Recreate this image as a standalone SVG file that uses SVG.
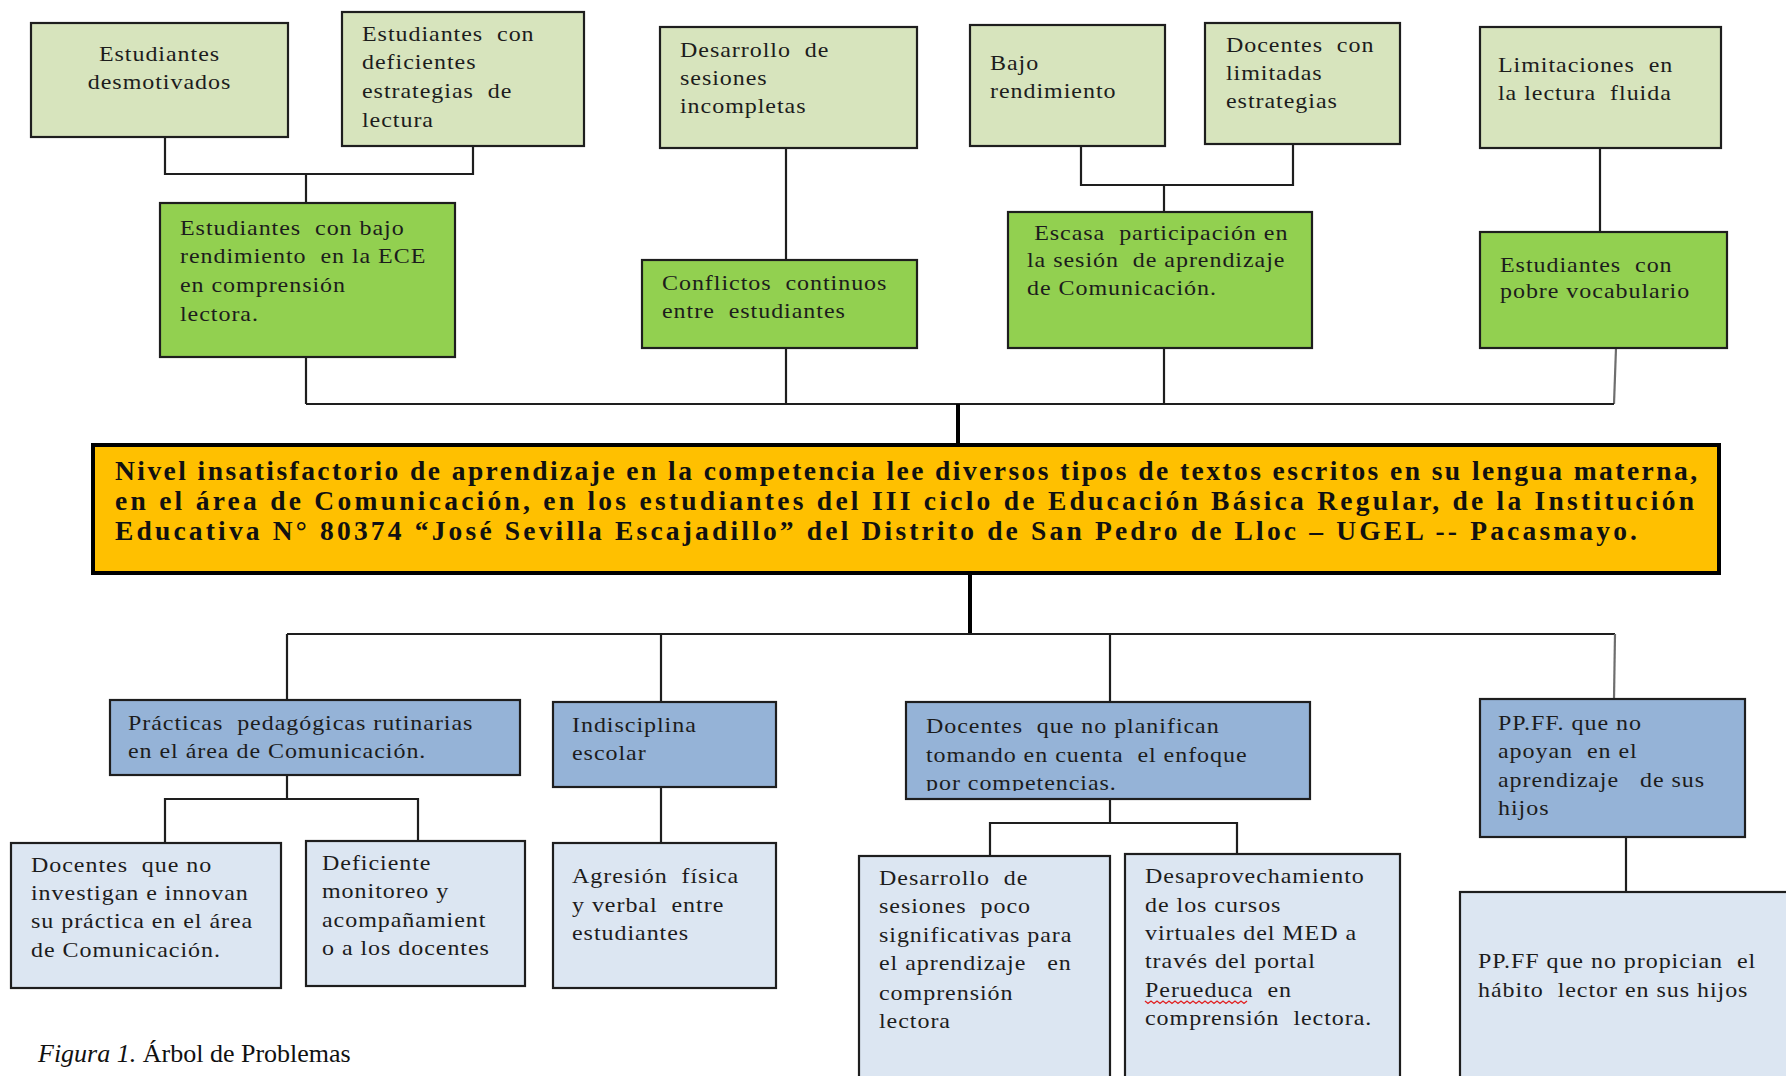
<svg xmlns="http://www.w3.org/2000/svg" width="1786" height="1076" viewBox="0 0 1786 1076">
<style>
.box{stroke:#1e1e1e;stroke-width:2.2}
.lg{fill:#D7E4BD}
.gr{fill:#92D050}
.bl{fill:#95B3D7}
.lb{fill:#DCE6F2}
.main{fill:#FFC000;stroke:#000;stroke-width:4}
.con{fill:none;stroke:#1e1e1e;stroke-width:2.2}
.gcon{fill:none;stroke:#6e6e6e;stroke-width:2.2}
.thick{fill:none;stroke:#000;stroke-width:4}
.tx{font-family:"Liberation Serif","Times New Roman",serif;font-size:20px;letter-spacing:0.8px;fill:#1c1c1c;white-space:pre}
.mt{font-family:"Liberation Serif","Times New Roman",serif;font-size:27.5px;font-weight:bold;fill:#111}
.cap{font-family:"Liberation Serif","Times New Roman",serif;font-size:26px;fill:#111}
</style>
<defs>
<clipPath id="clipB3"><rect x="907" y="703" width="402" height="88"/></clipPath>
</defs>
<rect width="1786" height="1076" fill="#fff"/>

<g id="connectors">
<path class="con" d="M165 137 V174 H473 V146"/>
<path class="con" d="M306 174 V203"/>
<path class="con" d="M306 357 V404"/>
<path class="con" d="M786 148 V260"/>
<path class="con" d="M786 348 V404"/>
<path class="con" d="M1081 146 V185 H1293 V144"/>
<path class="con" d="M1164 185 V212"/>
<path class="con" d="M1164 348 V404"/>
<path class="con" d="M1600 148 V232"/>
<path class="gcon" d="M1616 348 L1614 404"/>
<path class="con" d="M306 404 H1614"/>
<path class="thick" d="M958 404 V443"/>
<path class="thick" d="M970 575 V634"/>
<path class="con" d="M287 634 H1615"/>
<path class="con" d="M287 634 V700"/>
<path class="con" d="M661 634 V702"/>
<path class="con" d="M1110 634 V702"/>
<path class="gcon" d="M1615 634 L1614 699"/>
<path class="con" d="M287 775 V799"/>
<path class="con" d="M165 843 V799 H418 V841"/>
<path class="con" d="M661 787 V843"/>
<path class="con" d="M1110 799 V823"/>
<path class="con" d="M990 856 V823 H1237 V854"/>
<path class="con" d="M1626 837 V892"/>
</g>

<g id="n1">
<rect class="box lg" x="31" y="23" width="257" height="114"/>
<g transform="translate(159.5 0) scale(1.2 1)">
<text class="tx" x="0" y="61" text-anchor="middle">Estudiantes</text>
<text class="tx" x="0" y="89" text-anchor="middle">desmotivados</text>
</g>
</g>

<g id="n2">
<rect class="box lg" x="342" y="12" width="242" height="134"/>
<g transform="translate(362 0) scale(1.2 1)">
<text class="tx" x="0" y="41">Estudiantes  con</text>
<text class="tx" x="0" y="69">deficientes</text>
<text class="tx" x="0" y="98">estrategias  de</text>
<text class="tx" x="0" y="127">lectura</text>
</g>
</g>

<g id="n3">
<rect class="box lg" x="660" y="27" width="257" height="121"/>
<g transform="translate(680 0) scale(1.2 1)">
<text class="tx" x="0" y="57">Desarrollo  de</text>
<text class="tx" x="0" y="85">sesiones</text>
<text class="tx" x="0" y="113">incompletas</text>
</g>
</g>

<g id="n4">
<rect class="box lg" x="970" y="25" width="195" height="121"/>
<g transform="translate(990 0) scale(1.2 1)">
<text class="tx" x="0" y="70">Bajo</text>
<text class="tx" x="0" y="98">rendimiento</text>
</g>
</g>

<g id="n5">
<rect class="box lg" x="1205" y="23" width="195" height="121"/>
<g transform="translate(1226 0) scale(1.2 1)">
<text class="tx" x="0" y="52">Docentes  con</text>
<text class="tx" x="0" y="80">limitadas</text>
<text class="tx" x="0" y="108">estrategias</text>
</g>
</g>

<g id="n6">
<rect class="box lg" x="1480" y="27" width="241" height="121"/>
<g transform="translate(1498 0) scale(1.2 1)">
<text class="tx" x="0" y="72">Limitaciones  en</text>
<text class="tx" x="0" y="100">la lectura  fluida</text>
</g>
</g>

<g id="g1">
<rect class="box gr" x="160" y="203" width="295" height="154"/>
<g transform="translate(180 0) scale(1.2 1)">
<text class="tx" x="0" y="235">Estudiantes  con bajo</text>
<text class="tx" x="0" y="263">rendimiento  en la ECE</text>
<text class="tx" x="0" y="292">en comprensión</text>
<text class="tx" x="0" y="321">lectora.</text>
</g>
</g>

<g id="g2">
<rect class="box gr" x="642" y="260" width="275" height="88"/>
<g transform="translate(662 0) scale(1.2 1)">
<text class="tx" x="0" y="290">Conflictos  continuos</text>
<text class="tx" x="0" y="318">entre  estudiantes</text>
</g>
</g>

<g id="g3">
<rect class="box gr" x="1008" y="212" width="304" height="136"/>
<g transform="translate(1027 0) scale(1.2 1)">
<text class="tx" x="6" y="240">Escasa  participación en</text>
<text class="tx" x="0" y="267">la sesión  de aprendizaje</text>
<text class="tx" x="0" y="295">de Comunicación.</text>
</g>
</g>

<g id="g4">
<rect class="box gr" x="1480" y="232" width="247" height="116"/>
<g transform="translate(1500 0) scale(1.2 1)">
<text class="tx" x="0" y="272">Estudiantes  con</text>
<text class="tx" x="0" y="298">pobre vocabulario</text>
</g>
</g>

<g id="main">
<rect class="main" x="93" y="445" width="1626" height="128"/>
<text class="mt" x="115" y="480" textLength="1582" lengthAdjust="spacing">Nivel insatisfactorio de aprendizaje en la competencia lee diversos tipos de textos escritos en su lengua materna,</text>
<text class="mt" x="115" y="510" textLength="1579" lengthAdjust="spacing">en el área de Comunicación, en los estudiantes del III ciclo de Educación Básica Regular, de la Institución</text>
<text class="mt" x="115" y="540" textLength="1522" lengthAdjust="spacing">Educativa N° 80374 “José Sevilla Escajadillo” del Distrito de San Pedro de Lloc – UGEL -- Pacasmayo.</text>
</g>

<g id="b1">
<rect class="box bl" x="110" y="700" width="410" height="75"/>
<g transform="translate(128 0) scale(1.2 1)">
<text class="tx" x="0" y="730">Prácticas  pedagógicas rutinarias</text>
<text class="tx" x="0" y="758">en el área de Comunicación.</text>
</g>
</g>

<g id="b2">
<rect class="box bl" x="553" y="702" width="223" height="85"/>
<g transform="translate(572 0) scale(1.2 1)">
<text class="tx" x="0" y="732">Indisciplina</text>
<text class="tx" x="0" y="760">escolar</text>
</g>
</g>

<g id="b3">
<rect class="box bl" x="906" y="702" width="404" height="97"/>
<g clip-path="url(#clipB3)">
<g transform="translate(926 0) scale(1.2 1)">
<text class="tx" x="0" y="733">Docentes  que no planifican</text>
<text class="tx" x="0" y="762">tomando en cuenta  el enfoque</text>
<text class="tx" x="0" y="790">por competencias.</text>
</g>
</g>
</g>

<g id="b4">
<rect class="box bl" x="1480" y="699" width="265" height="138"/>
<g transform="translate(1498 0) scale(1.2 1)">
<text class="tx" x="0" y="730">PP.FF. que no</text>
<text class="tx" x="0" y="758">apoyan  en el</text>
<text class="tx" x="0" y="787">aprendizaje   de sus</text>
<text class="tx" x="0" y="815">hijos</text>
</g>
</g>

<g id="l1">
<rect class="box lb" x="11" y="843" width="270" height="145"/>
<g transform="translate(31 0) scale(1.2 1)">
<text class="tx" x="0" y="872">Docentes  que no</text>
<text class="tx" x="0" y="900">investigan e innovan</text>
<text class="tx" x="0" y="928">su práctica en el área</text>
<text class="tx" x="0" y="957">de Comunicación.</text>
</g>
</g>

<g id="l2">
<rect class="box lb" x="306" y="841" width="219" height="145"/>
<g transform="translate(322 0) scale(1.2 1)">
<text class="tx" x="0" y="870">Deficiente</text>
<text class="tx" x="0" y="898">monitoreo y</text>
<text class="tx" x="0" y="927">acompañamient</text>
<text class="tx" x="0" y="955">o a los docentes</text>
</g>
</g>

<g id="l3">
<rect class="box lb" x="553" y="843" width="223" height="145"/>
<g transform="translate(572 0) scale(1.2 1)">
<text class="tx" x="0" y="883">Agresión  física</text>
<text class="tx" x="0" y="912">y verbal  entre</text>
<text class="tx" x="0" y="940">estudiantes</text>
</g>
</g>

<g id="l4">
<rect class="box lb" x="859" y="856" width="251" height="240"/>
<g transform="translate(879 0) scale(1.2 1)">
<text class="tx" x="0" y="885">Desarrollo  de</text>
<text class="tx" x="0" y="913">sesiones  poco</text>
<text class="tx" x="0" y="942">significativas para</text>
<text class="tx" x="0" y="970">el aprendizaje   en</text>
<text class="tx" x="0" y="1000">comprensión</text>
<text class="tx" x="0" y="1028">lectora</text>
</g>
</g>

<g id="l5">
<rect class="box lb" x="1125" y="854" width="275" height="240"/>
<g transform="translate(1145 0) scale(1.2 1)">
<text class="tx" x="0" y="883">Desaprovechamiento</text>
<text class="tx" x="0" y="912">de los cursos</text>
<text class="tx" x="0" y="940">virtuales del MED a</text>
<text class="tx" x="0" y="968">través del portal</text>
<text class="tx" x="0" y="997">Perueduca  en</text>
<text class="tx" x="0" y="1025">comprensión  lectora.</text>
</g>
<path d="M1145 1001 l3 2.5 l3 -2.5 l3 2.5 l3 -2.5 l3 2.5 l3 -2.5 l3 2.5 l3 -2.5 l3 2.5 l3 -2.5 l3 2.5 l3 -2.5 l3 2.5 l3 -2.5 l3 2.5 l3 -2.5 l3 2.5 l3 -2.5 l3 2.5 l3 -2.5 l3 2.5 l3 -2.5 l3 2.5 l3 -2.5 l3 2.5 l3 -2.5 l3 2.5 l3 -2.5 l3 2.5 l3 -2.5 l3 2.5 l3 -2.5 l3 2.5 l3 -2.5" fill="none" stroke="#e02020" stroke-width="1.3"/>
</g>

<g id="l6">
<rect class="box lb" x="1460" y="892" width="340" height="204"/>
<g transform="translate(1478 0) scale(1.2 1)">
<text class="tx" x="0" y="968">PP.FF que no propician  el</text>
<text class="tx" x="0" y="997">hábito  lector en sus hijos</text>
</g>
</g>

<g id="caption">
<text class="cap" x="38" y="1062"><tspan font-style="italic">Figura 1.</tspan> Árbol de Problemas</text>
</g>
</svg>
